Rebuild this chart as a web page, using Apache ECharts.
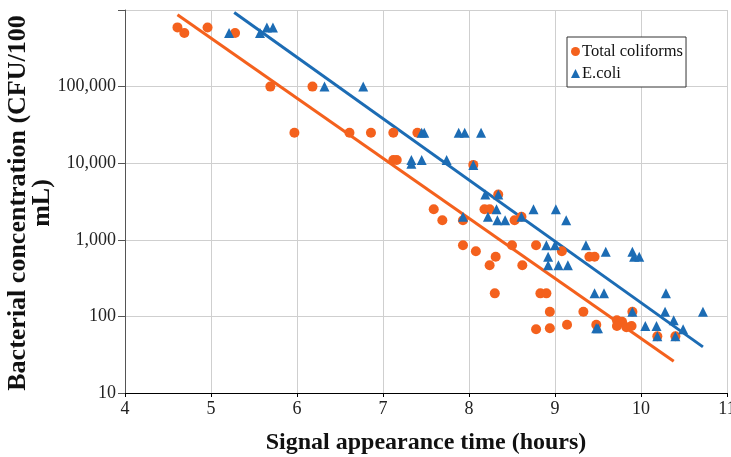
<!DOCTYPE html>
<html>
<head>
<meta charset="utf-8">
<script src="https://cdn.jsdelivr.net/npm/echarts@6/dist/echarts.min.js"></script>
<style>html,body{margin:0;padding:0;background:#fff}#c{width:731px;height:457px}</style>
</head>
<body>
<div id="c"></div>
<script>
const xTicks = [4, 5, 6, 7, 8, 9, 10, 11];
const yTicks = [10, 100, 1000, 10000, 100000, 1000000];
const yTickLabels = ['10', '100', '1,000', '10,000', '100,000', ''];

const totalColiforms = [
  [4.61, 593000], [4.69, 500000], [4.96, 590000], [5.28, 500000],
  [5.69, 100000], [6.18, 100000], [5.97, 25000],
  [6.61, 25000], [6.86, 25000], [7.12, 25000], [7.40, 25000],
  [7.12, 11000], [7.16, 11000], [8.05, 9500],
  [8.34, 3900],
  [7.59, 2500], [7.69, 1800], [7.93, 1800],
  [8.18, 2500], [8.24, 2500], [8.53, 1800], [8.61, 2000],
  [7.93, 850], [8.08, 710], [8.31, 600], [8.24, 465], [8.50, 850], [8.62, 465], [8.78, 850], [9.08, 710],
  [8.30, 200], [8.83, 200], [8.90, 200],
  [8.94, 115], [9.33, 115], [9.90, 115],
  [8.78, 68], [8.94, 70], [9.14, 78], [9.48, 78],
  [9.40, 600], [9.46, 600],
  [9.72, 89], [9.78, 85], [9.72, 75], [9.83, 72], [9.89, 75],
  [10.19, 55], [10.40, 55]
];

const eColi = [
  [5.21, 500000], [5.57, 500000], [5.65, 593000], [5.72, 593000],
  [6.32, 100000], [6.77, 100000],
  [7.45, 25000], [7.48, 25000], [7.88, 25000], [7.95, 25000], [8.14, 25000],
  [7.33, 11000], [7.33, 9800], [7.45, 11000], [7.74, 11000], [8.05, 9500],
  [8.19, 3900], [8.34, 3900],
  [7.93, 2000], [8.32, 2500], [8.22, 2000], [8.33, 1800], [8.42, 1800], [8.61, 2000],
  [8.75, 2500], [9.01, 2500], [9.13, 1800],
  [8.90, 850], [9.00, 850], [8.92, 600], [8.92, 465], [9.04, 465], [9.15, 465],
  [9.36, 850], [9.59, 700], [9.90, 700], [9.92, 600], [9.98, 600],
  [9.46, 200], [9.57, 200], [10.29, 200],
  [9.90, 115], [10.28, 115], [10.72, 115],
  [9.48, 70], [9.50, 70],
  [10.05, 75], [10.18, 75], [10.38, 89], [10.49, 68],
  [10.19, 55], [10.40, 55]
];

const trendTotal = [[4.61, 867000], [10.38, 26]];
const trendEColi = [[5.27, 930000], [10.72, 40]];

const ORANGE = '#F4611D';
const BLUE = '#1C6CB4';
const FONT = 'Liberation Serif';

const chart = echarts.init(document.getElementById('c'), null, {renderer: 'canvas'});
chart.setOption({
  animation: false,
  backgroundColor: '#fff',
  grid: {left: 125, right: 4, top: 10, bottom: 64, containLabel: false, outerBoundsMode: 'none'},
  graphic: [{
    type: 'text', x: 30, y: 203, rotation: Math.PI / 2, silent: true,
    style: {
      text: 'Bacterial concentration (CFU/100\nmL)',
      fontFamily: FONT, fontSize: 26, fontWeight: 'bold', fill: '#111',
      lineHeight: 24, align: 'center', verticalAlign: 'middle'
    }
  }],
  legend: {
    data: [
      {name: 'Total coliforms', icon: 'circle'},
      {name: 'E.coli', icon: 'triangle'}
    ],
    orient: 'vertical',
    left: 567, top: 37,
    padding: [6, 3, 5, 4],
    itemGap: 5,
    itemWidth: 9, itemHeight: 9,
    borderColor: '#333', borderWidth: 1,
    backgroundColor: '#fff',
    textStyle: {fontFamily: FONT, fontSize: 16.5, color: '#111', padding: [0, 0, 0, -3]}
  },
  xAxis: {
    type: 'value', min: 4, max: 11, interval: 1,
    name: 'Signal appearance time (hours)',
    nameLocation: 'middle', nameGap: 38,
    nameTextStyle: {fontFamily: FONT, fontSize: 24, fontWeight: 'bold', color: '#111'},
    axisLine: {show: true, lineStyle: {color: '#000', width: 1.2}},
    axisTick: {show: true, length: 4, lineStyle: {color: '#000'}},
    axisLabel: {fontFamily: FONT, fontSize: 18, color: '#222', margin: 7,
      formatter: v => xTicks.includes(v) ? String(v) : ''},
    splitLine: {show: true, lineStyle: {color: '#cfcfcf', width: 1}}
  },
  yAxis: {
    type: 'log', logBase: 10, min: 10, max: 1000000,
    axisLine: {show: true, lineStyle: {color: '#555', width: 1}},
    axisTick: {show: true, length: 7, lineStyle: {color: '#555'}},
    axisLabel: {fontFamily: FONT, fontSize: 18, color: '#222', margin: 9,
      formatter: v => { const i = yTicks.indexOf(Math.round(v)); return i >= 0 ? yTickLabels[i] : ''; }},
    splitLine: {show: true, lineStyle: {color: '#cfcfcf', width: 1}}
  },
  series: [
    {name: 'Total coliforms trend', type: 'line', data: trendTotal, showSymbol: false, symbol: 'none',
      lineStyle: {color: ORANGE, width: 3}, z: 2, silent: true},
    {name: 'E.coli trend', type: 'line', data: trendEColi, showSymbol: false, symbol: 'none',
      lineStyle: {color: BLUE, width: 3}, z: 2, silent: true},
    {name: 'Total coliforms', type: 'scatter', data: totalColiforms, symbol: 'circle', symbolSize: 10,
      itemStyle: {color: ORANGE, opacity: 1}, z: 3},
    {name: 'E.coli', type: 'scatter', data: eColi, symbol: 'triangle', symbolSize: 10,
      itemStyle: {color: BLUE, opacity: 1}, z: 4}
  ]
});
</script>
</body>
</html>
